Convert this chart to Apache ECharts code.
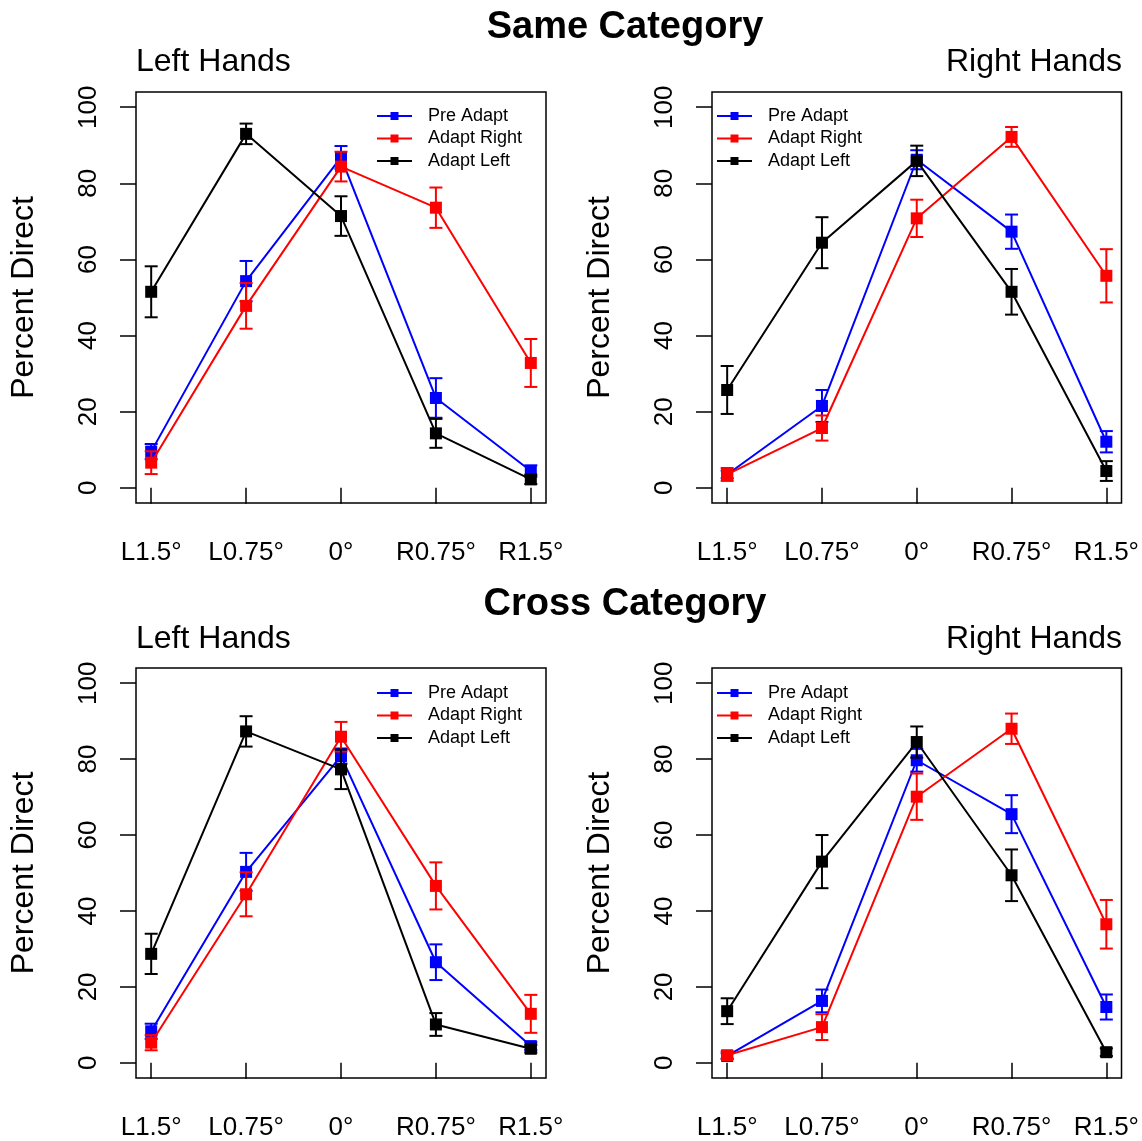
<!DOCTYPE html>
<html><head><meta charset="utf-8">
<script src="https://cdn.jsdelivr.net/npm/echarts@6/dist/echarts.min.js"></script>
<style>html,body{margin:0;padding:0;background:#fff}#c{width:1142px;height:1141px}</style>
</head><body><div id="c"></div><script>
// ---- data ----
const categories = ['L1.5°', 'L0.75°', '0°', 'R0.75°', 'R1.5°'];
const yTicks = [0, 20, 40, 60, 80, 100];
const seriesNames = ['Pre Adapt', 'Adapt Right', 'Adapt Left'];
const panelTitles = ['Left Hands', 'Right Hands', 'Left Hands', 'Right Hands'];
const sectionTitles = ['Same Category', 'Cross Category'];

// Same Category, Left Hands
const sameLeftPre = [9.5, 54.3, 86.8, 23.6, 4.4];
const sameLeftPreErr = [2.0, 5.3, 3.0, 5.2, 1.5];
const sameLeftAdaptRight = [6.6, 47.8, 84.4, 73.6, 32.8];
const sameLeftAdaptRightErr = [3.0, 6.0, 3.9, 5.3, 6.3];
const sameLeftAdaptLeft = [51.5, 93.0, 71.4, 14.3, 2.2];
const sameLeftAdaptLeftErr = [6.7, 2.7, 5.2, 3.8, 1.2];

// Same Category, Right Hands
const sameRightPre = [3.5, 21.5, 86.2, 67.3, 12.1];
const sameRightPreErr = [1.0, 4.2, 2.5, 4.5, 2.8];
const sameRightAdaptRight = [3.5, 15.7, 70.8, 92.2, 55.7];
const sameRightAdaptRightErr = [1.7, 3.3, 4.9, 2.6, 7.0];
const sameRightAdaptLeft = [25.7, 64.4, 85.9, 51.5, 4.4];
const sameRightAdaptLeftErr = [6.3, 6.7, 4.0, 6.0, 2.6];

// Cross Category, Left Hands
const crossLeftPre = [8.3, 50.3, 80.8, 26.5, 4.4];
const crossLeftPreErr = [2.0, 5.0, 2.0, 4.7, 1.0];
const crossLeftAdaptRight = [5.3, 44.4, 85.9, 46.6, 12.9];
const crossLeftAdaptRightErr = [2.0, 5.8, 3.9, 6.2, 5.0];
const crossLeftAdaptLeft = [28.7, 87.3, 77.3, 10.1, 3.7];
const crossLeftAdaptLeftErr = [5.3, 4.0, 5.2, 3.0, 1.0];

// Cross Category, Right Hands
const crossRightPre = [1.8, 16.3, 79.7, 65.5, 14.7];
const crossRightPreErr = [0.7, 3.0, 3.0, 5.0, 3.3];
const crossRightAdaptRight = [2.0, 9.4, 70.1, 88.0, 36.5];
const crossRightAdaptRightErr = [1.0, 3.4, 6.1, 4.0, 6.4];
const crossRightAdaptLeft = [13.6, 53.0, 84.5, 49.4, 2.8];
const crossRightAdaptLeftErr = [3.4, 7.0, 4.1, 6.8, 1.0];

// ---- layout / style ----
const FONT = "'Liberation Sans', Arial, sans-serif";
const NARROW = "'Liberation Sans Narrow', 'Arial Narrow', 'Liberation Sans', Arial, sans-serif";
const colors = ['#0000FF', '#FF0000', '#000000'];
const panels = [
  { left: 136, top: 92, height: 411, legendLeft: 376, legendTop: 107,
    vals: [sameLeftPre, sameLeftAdaptRight, sameLeftAdaptLeft],
    errs: [sameLeftPreErr, sameLeftAdaptRightErr, sameLeftAdaptLeftErr] },
  { left: 712, top: 92, height: 411, legendLeft: 716, legendTop: 107,
    vals: [sameRightPre, sameRightAdaptRight, sameRightAdaptLeft],
    errs: [sameRightPreErr, sameRightAdaptRightErr, sameRightAdaptLeftErr] },
  { left: 136, top: 668, height: 410, legendLeft: 376, legendTop: 684,
    vals: [crossLeftPre, crossLeftAdaptRight, crossLeftAdaptLeft],
    errs: [crossLeftPreErr, crossLeftAdaptRightErr, crossLeftAdaptLeftErr] },
  { left: 712, top: 668, height: 410, legendLeft: 716, legendTop: 684,
    vals: [crossRightPre, crossRightAdaptRight, crossRightAdaptLeft],
    errs: [crossRightPreErr, crossRightAdaptRightErr, crossRightAdaptLeftErr] }
];
const PW = 410;

const grid = [], xAxis = [], yAxis = [], series = [], legend = [];
const xVals = categories.map((c, j) => j + 1);

panels.forEach((p, i) => {
  grid.push({ left: p.left, top: p.top, width: PW, height: p.height, show: true,
    borderColor: '#000', borderWidth: 1.5, backgroundColor: 'transparent', containLabel: false });
  xAxis.push({ gridIndex: i, type: 'value', min: 0.84, max: 5.16,
    axisLine: { show: false }, splitLine: { show: false },
    axisTick: { show: true, inside: false, length: 16, customValues: xVals, lineStyle: { color: '#000', width: 1.5 } },
    axisLabel: { show: true, customValues: xVals, margin: 37, fontSize: 26, color: '#000', fontFamily: FONT,
      formatter: v => categories[Math.round(v) - 1] || '' } });
  yAxis.push({ gridIndex: i, type: 'value', min: -4, max: 104,
    axisLine: { show: false }, splitLine: { show: false },
    axisTick: { show: true, inside: false, length: 16, customValues: yTicks, lineStyle: { color: '#000', width: 1.5 } },
    axisLabel: { show: true, customValues: yTicks, rotate: 90, margin: 34, fontSize: 26, color: '#000', fontFamily: NARROW },
    name: 'Percent Direct', nameLocation: 'middle', nameRotate: 90, nameGap: 96,
    nameTextStyle: { fontSize: 32, color: '#000', fontFamily: FONT } });

  p.vals.forEach((vals, k) => {
    const errs = p.errs[k];
    const col = colors[k];
    series.push({
      name: seriesNames[k] + ' error', type: 'custom', xAxisIndex: i, yAxisIndex: i, silent: true,
      z: 10 + k * 2,
      data: vals.map((v, j) => [j + 1, v - errs[j], v + errs[j]]),
      renderItem: (params, api) => {
        const x = api.value(0);
        const lo = api.coord([x, api.value(1)]);
        const hi = api.coord([x, api.value(2)]);
        const w = 6.5;
        const st = { stroke: col, lineWidth: 2 };
        return { type: 'group', children: [
          { type: 'line', shape: { x1: lo[0], y1: lo[1], x2: hi[0], y2: hi[1] }, style: st },
          { type: 'line', shape: { x1: lo[0] - w, y1: lo[1], x2: lo[0] + w, y2: lo[1] }, style: st },
          { type: 'line', shape: { x1: hi[0] - w, y1: hi[1], x2: hi[0] + w, y2: hi[1] }, style: st }
        ] };
      }
    });
    series.push({
      name: seriesNames[k], type: 'line', xAxisIndex: i, yAxisIndex: i,
      z: 11 + k * 2,
      data: vals.map((v, j) => [j + 1, v]),
      symbol: 'rect', symbolSize: 12, showSymbol: true,
      itemStyle: { color: col },
      lineStyle: { color: col, width: 2 }
    });
  });

  legend.push({ left: p.legendLeft, top: p.legendTop, orient: 'vertical', data: seriesNames,
    itemWidth: 35, itemHeight: 10, itemGap: 4.5, padding: 0, selectedMode: false,
    textStyle: { fontSize: 18, color: '#000', fontFamily: FONT, lineHeight: 18, padding: [0, 0, 0, 11] } });
});

const title = [
  { text: sectionTitles[0], left: 625, textAlign: 'center', top: 9, padding: 0,
    textStyle: { fontSize: 38, fontWeight: 'bold', color: '#000', fontFamily: FONT } },
  { text: sectionTitles[1], left: 625, textAlign: 'center', top: 586, padding: 0,
    textStyle: { fontSize: 38, fontWeight: 'bold', color: '#000', fontFamily: FONT } },
  { text: panelTitles[0], left: 136, top: 46, padding: 0,
    textStyle: { fontSize: 32, fontWeight: 'normal', color: '#000', fontFamily: FONT } },
  { text: panelTitles[1], right: 20, top: 46, padding: 0,
    textStyle: { fontSize: 32, fontWeight: 'normal', color: '#000', fontFamily: FONT } },
  { text: panelTitles[2], left: 136, top: 623, padding: 0,
    textStyle: { fontSize: 32, fontWeight: 'normal', color: '#000', fontFamily: FONT } },
  { text: panelTitles[3], right: 20, top: 623, padding: 0,
    textStyle: { fontSize: 32, fontWeight: 'normal', color: '#000', fontFamily: FONT } }
];

const chart = echarts.init(document.getElementById('c'), null, { renderer: 'canvas' });
chart.setOption({ animation: false, backgroundColor: '#fff', title, grid, xAxis, yAxis, legend, series });
</script></body></html>
